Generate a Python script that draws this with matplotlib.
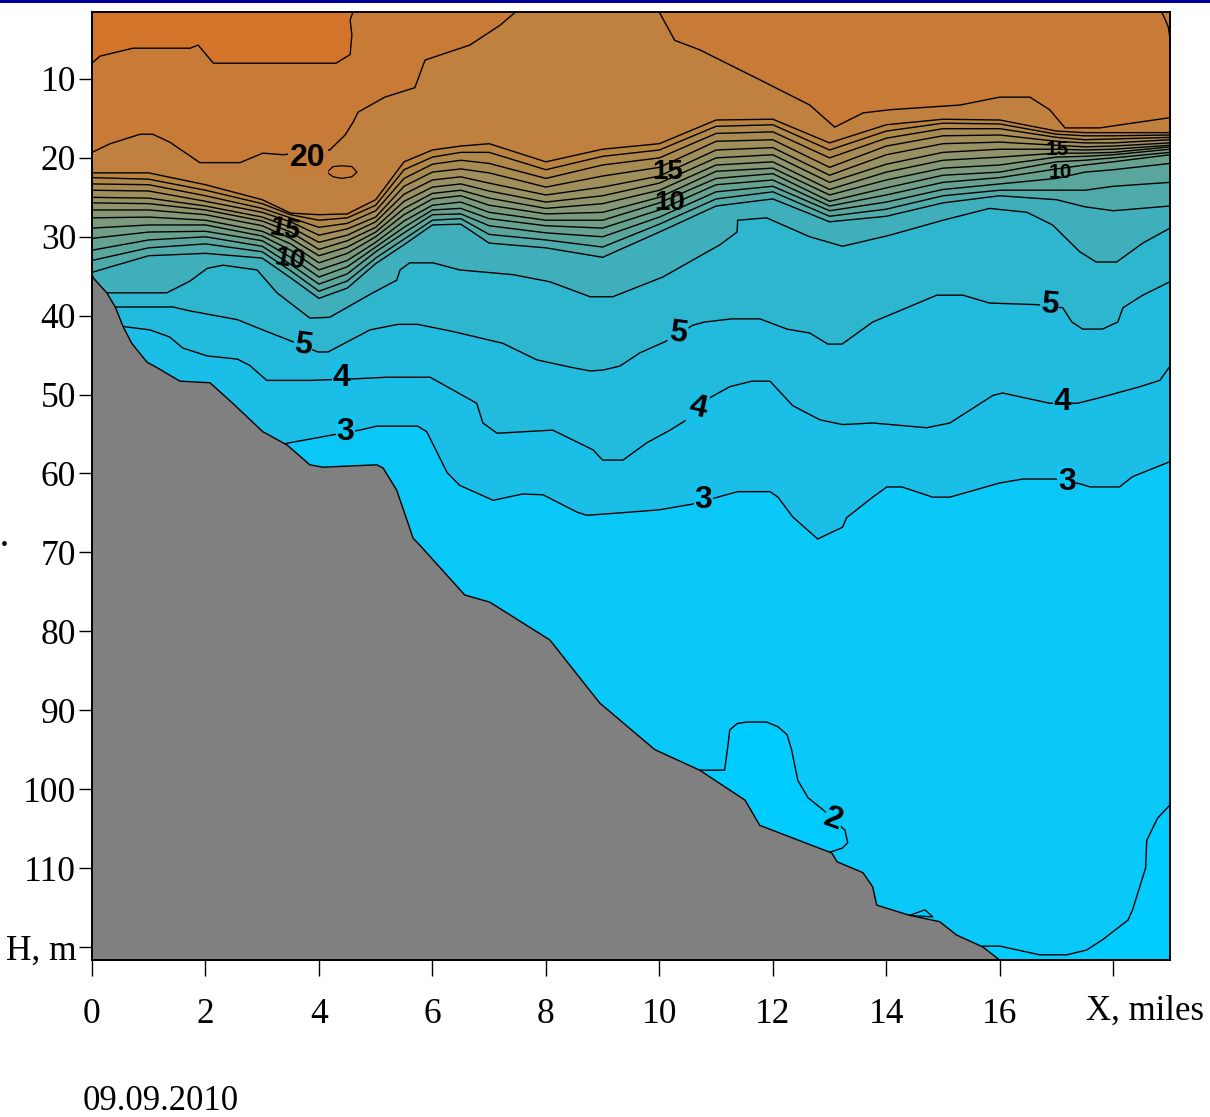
import numpy as np
import matplotlib
matplotlib.use("Agg")
import matplotlib.pyplot as plt
from matplotlib.patches import Rectangle

plt.rcParams['font.family'] = ['Liberation Serif', 'DejaVu Serif']

# x stations shared by the thermocline isolines, miles
x_st = [0, 1, 2, 3, 3.5, 4, 4.5, 5, 5.5, 6, 6.5, 7, 8, 9, 10, 11, 12, 13, 14, 15, 16, 17, 17.5, 18, 19]

# depth of each isotherm at the stations, m
t19 = [21.9, 21.9, 23.4, 25.3, 27.0, 27.2, 27.1, 25.3, 20.5, 19.0, 18.5, 18.2, 20.5, 18.9, 18.2, 15.2, 15.1, 18.1, 15.8, 15.1, 15.2, 16.6, 16.8, 16.8, 16.8]
t18 = [22.5, 22.7, 24.1, 25.8, 27.2, 27.9, 27.6, 26.0, 21.5, 19.9, 19.3, 19.3, 21.5, 19.8, 19.0, 16.0, 15.8, 19.0, 16.6, 15.6, 15.7, 17.0, 17.2, 17.2, 17.1]
t17 = [23.3, 23.4, 24.8, 26.4, 27.6, 28.8, 28.3, 26.7, 22.6, 20.8, 20.3, 20.7, 22.6, 20.9, 20.0, 16.9, 16.7, 20.0, 17.5, 16.3, 16.3, 17.4, 17.7, 17.6, 17.4]
t16 = [24.1, 24.2, 25.5, 26.9, 28.1, 29.8, 29.0, 27.5, 23.6, 21.8, 21.4, 21.9, 23.7, 22.3, 21.2, 17.9, 17.7, 21.2, 18.5, 17.2, 17.1, 17.9, 18.1, 18.1, 17.7]
t15 = [25.0, 25.1, 26.1, 27.5, 28.8, 30.7, 29.8, 28.1, 24.6, 22.8, 22.4, 23.2, 24.7, 23.7, 22.3, 19.0, 18.7, 22.2, 19.6, 18.2, 18.0, 18.4, 18.6, 18.5, 18.1]
t14 = [25.7, 25.8, 26.6, 28.0, 29.4, 31.6, 30.5, 28.8, 25.5, 23.7, 23.3, 24.2, 25.6, 24.8, 23.2, 20.0, 19.6, 23.1, 20.8, 19.3, 18.9, 18.9, 19.0, 18.9, 18.4]
t13 = [26.6, 26.6, 27.2, 28.6, 30.2, 32.4, 31.3, 29.4, 26.4, 24.5, 24.1, 25.1, 26.4, 25.8, 24.1, 20.9, 20.5, 24.0, 21.8, 20.3, 19.9, 19.4, 19.4, 19.3, 18.6]
t12 = [27.6, 27.5, 27.9, 29.3, 30.9, 33.3, 32.1, 30.0, 27.2, 25.2, 24.8, 26.0, 27.1, 26.9, 25.0, 21.7, 21.3, 24.7, 22.8, 21.3, 20.9, 19.9, 19.8, 19.6, 18.9]
t11 = [28.9, 28.5, 28.5, 29.9, 31.7, 34.2, 33.0, 30.7, 28.0, 26.0, 25.6, 26.9, 27.9, 27.9, 25.7, 22.6, 22.0, 25.5, 23.8, 22.2, 21.8, 20.5, 20.3, 20.0, 19.3]
t10 = [30.2, 29.4, 29.3, 30.5, 32.6, 35.1, 33.8, 31.3, 28.8, 26.6, 26.4, 27.7, 28.6, 28.9, 26.6, 23.4, 22.8, 26.1, 24.7, 23.1, 22.5, 21.4, 20.9, 20.5, 19.6]
t9 = [31.7, 30.4, 30.0, 31.2, 33.5, 36.0, 34.7, 31.9, 29.5, 27.2, 27.1, 28.6, 29.5, 30.0, 27.5, 24.3, 23.6, 26.7, 25.6, 24.0, 23.3, 22.6, 21.8, 21.5, 20.7]
t8 = [33.0, 31.4, 30.9, 31.9, 34.3, 36.9, 35.6, 32.7, 30.3, 27.9, 27.7, 29.7, 30.4, 31.3, 28.4, 25.2, 24.3, 27.4, 26.5, 24.8, 24.1, 24.1, 24.1, 23.6, 23.1]
t7 = [34.5, 32.4, 32.1, 32.7, 35.2, 37.8, 36.5, 33.4, 31.0, 28.5, 28.4, 30.8, 31.4, 32.6, 29.4, 26.1, 25.2, 28.1, 27.4, 25.7, 24.8, 25.3, 26.2, 26.7, 26.1]

# the lower isolines have their own x points
x6 = [0, 1.32, 1.73, 2.03, 2.31, 2.91, 3.26, 3.84, 4.19, 4.95, 5.37, 5.43, 5.6, 6.01, 6.48, 7.42, 8.07, 8.78, 9.18, 10.06, 11.07, 11.37, 11.38, 11.89, 12.65, 13.23, 14.06, 15.0, 15.82, 16.48, 16.93, 17.41, 17.7, 18.06, 18.52, 19]
t6 = [37.1, 37.1, 35.6, 34.0, 33.6, 34.2, 37.1, 40.3, 40.2, 37.1, 35.5, 34.2, 33.3, 33.3, 34.2, 34.8, 35.7, 37.6, 37.6, 35.1, 31.0, 29.4, 27.9, 27.6, 30.0, 31.2, 29.8, 27.9, 26.4, 26.9, 28.5, 31.9, 33.2, 33.2, 30.8, 28.9]
x5 = [0, .41, 1.43, 1.73, 2.56, 3.01, 3.54, 3.98, 4.16, 4.9, 5.39, 5.74, 6.36, 7.24, 7.84, 8.48, 8.78, 9.0, 9.3, 9.66, 10.13, 10.59, 10.8, 11.28, 11.77, 12.25, 12.65, 12.97, 13.22, 13.76, 14.36, 14.89, 15.35, 15.82, 16.65, 17.11, 17.27, 17.46, 17.81, 18.08, 18.17, 18.52, 19]
t5 = [38.0, 38.9, 38.9, 39.4, 40.5, 41.8, 43.3, 44.6, 44.6, 41.8, 41.1, 41.1, 42.0, 43.5, 45.6, 46.6, 47.0, 46.9, 46.4, 44.7, 43.2, 41.2, 40.8, 40.4, 40.4, 41.7, 42.2, 43.6, 43.6, 40.8, 39.0, 37.4, 37.4, 38.4, 38.6, 39.0, 40.8, 41.7, 41.7, 40.8, 39.0, 37.4, 35.7]
x4 = [0, .58, 1.02, 1.37, 1.6, 2.03, 2.56, 2.78, 3.08, 3.84, 4.63, 5.2, 5.96, 6.78, 6.89, 7.14, 8.12, 8.83, 9.0, 9.36, 9.78, 10.19, 10.48, 10.89, 11.24, 11.63, 11.95, 12.35, 12.83, 13.23, 13.76, 14.71, 15.12, 15.88, 16.05, 16.88, 17.37, 17.76, 18.47, 18.82, 19]
t4 = [40.5, 41.4, 41.8, 42.7, 44.1, 45.1, 45.5, 46.3, 48.2, 48.2, 48.0, 47.8, 47.8, 51.1, 53.6, 54.9, 54.5, 57.0, 58.3, 58.3, 56.1, 54.5, 53.2, 50.4, 49.0, 48.3, 48.3, 51.4, 53.2, 53.8, 53.6, 54.2, 53.6, 50.1, 49.8, 51.1, 51.1, 50.4, 49.0, 48.2, 46.4]
x3 = [0, 1, 2, 3.0, 3.49, 4.25, 4.72, 5.02, 5.74, 5.9, 6.26, 6.48, 7.07, 7.59, 7.95, 8.55, 8.72, 9.3, 10.0, 10.57, 11.03, 11.38, 11.95, 12.09, 12.35, 12.79, 13.23, 13.3, 13.76, 14.01, 14.27, 14.82, 15.12, 16.0, 16.41, 16.97, 17.41, 17.59, 18.11, 18.34, 19]
t3 = [44.4, 48.2, 50.7, 56.8, 56.1, 55.1, 54.5, 54.0, 54.0, 54.7, 59.9, 61.5, 63.4, 62.6, 62.7, 64.9, 65.3, 65.0, 64.6, 63.9, 63.0, 62.3, 62.3, 63.0, 65.5, 68.3, 66.8, 65.6, 63.0, 61.7, 61.7, 63.0, 63.0, 61.2, 60.7, 60.7, 61.3, 61.7, 61.7, 60.4, 58.5]

# warm layer lines
x20 = [0, .32, .85, 1.07, 1.37, 1.9, 2.61, 3.01, 3.37, 4.19, 4.46, 4.6, 4.69, 5.16, 5.69, 5.87, 6.66, 7.19, 7.63, 9.92, 10.27, 10.71, 11.77, 12.65, 13.09, 13.59, 14.06, 15.3, 16.0, 16.53, 16.88, 17.15, 17.76, 19]
t20 = [19.3, 18.2, 17.0, 17.0, 18.0, 20.6, 20.6, 19.4, 19.6, 19.0, 17.1, 15.5, 14.2, 12.3, 11.1, 7.6, 5.7, 3.2, 0.5, 0.5, 5.1, 6.3, 10.1, 13.3, 16.1, 14.3, 13.9, 13.3, 12.3, 12.3, 13.9, 16.2, 16.2, 14.9]
x21 = [0, .14, .72, 1.73, 1.87, 2.14, 4.3, 4.55, 4.58, 4.55, 4.6]
t21 = [8.0, 7.1, 6.1, 6.1, 5.7, 8.0, 8.0, 6.9, 4.4, 2.5, 1.5]
x21b = [18.85, 18.9, 18.97, 19]
t21b = [1.5, 2.2, 3.4, 4.9]
x_patch20 = [4.14, 4.25, 4.4, 4.58, 4.67, 4.58, 4.4, 4.25, 4.14]
t_patch20 = [21.8, 21.1, 21.0, 21.1, 21.8, 22.4, 22.6, 22.4, 21.8]

# cold patches
x2_blob = [10.71, 11.15, 11.21, 11.24, 11.37, 11.54, 11.89, 12.09, 12.25, 12.33, 12.44, 12.62, 12.88, 13.27, 13.32, 13.22, 13.0, 11.5]
t2_blob = [97.6, 97.6, 94.4, 92.5, 91.7, 91.5, 91.5, 92.1, 93.1, 95.0, 98.9, 101.1, 102.6, 105.2, 106.8, 107.5, 108.0, 105.0]
x2_right = [15.7, 16.0, 16.7, 17.18, 17.53, 17.81, 18.26, 18.34, 18.57, 18.59, 18.78, 19]
t2_right = [119.9, 119.9, 121.0, 121.0, 120.4, 119.1, 116.6, 115.3, 110.0, 106.5, 103.7, 102.0]
x2_small = [14.41, 14.68, 14.82, 14.41]
t2_small = [116.0, 115.3, 116.2, 116.0]

# sea bed
x_bed = [0, .02, .26, .41, .55, .7, .97, 1.15, 1.55, 2.08, 2.48, 3.01, 3.44, 3.84, 4.07, 5.02, 5.13, 5.37, 5.66, 5.78, 6.57, 7.01, 8.07, 8.95, 9.92, 10.71, 11.51, 11.77, 13.04, 13.13, 13.59, 13.76, 13.83, 14.41, 14.94, 15.24, 15.7, 15.95, 16.05]
h_bed = [34.5, 35.2, 37.1, 38.9, 41.4, 43.5, 45.9, 46.6, 48.3, 48.5, 51.1, 54.7, 56.4, 58.9, 59.2, 58.9, 59.3, 62.1, 68.2, 69.1, 75.4, 76.3, 81.1, 89.1, 95.0, 97.6, 101.4, 104.6, 108.1, 109.2, 110.6, 112.4, 114.7, 116.0, 116.8, 118.5, 120.0, 121.4, 122.0]

isotherms = [(x_st, t) for t in [t19, t18, t17, t16, t15, t14, t13, t12, t11, t10, t9, t8, t7]]
isotherms += [(x6, t6), (x5, t5), (x4, t4), (x3, t3)]
band_colors = ['#b8843f', '#b08849', '#a88b52', '#a08e5b', '#989163', '#8f946c', '#859774', '#7b9a7d', '#719e87', '#67a290',
               '#5aa69c', '#4eabaa', '#3fb0bb', '#2eb6cf', '#22bbdd', '#1abee7', '#12c2ee']

y_ticks = [10, 20, 30, 40, 50, 60, 70, 80, 90, 100, 110, 120]
y_labels = ['10', '20', '30', '40', '50', '60', '70', '80', '90', '100', '110', 'H, m']
x_ticks = [0, 2, 4, 6, 8, 10, 12, 14, 16, 18]
x_labels = ['0', '2', '4', '6', '8', '10', '12', '14', '16', '']

fig = plt.figure(figsize=(12.10, 11.17), dpi=100)
ax = fig.add_axes([92 / 1210, 1 - 960 / 1117, (1170 - 92) / 1210, (960 - 12) / 1117])
ax.set_facecolor('#0ac8f8')

# warm layers first, then each band down to the next isotherm
ax.fill_between(x_st, 0, t19, color='#c0803f', lw=0)
ax.fill_between(x20, 0, t20, color='#c77b36', lw=0)
ax.fill_between(x21, 0, t21, color='#d2752a', lw=0)
ax.fill(x_patch20, t_patch20, color='#c77b36', lw=0)
for (xa, ta), (xb, tb), col in zip(isotherms[:-1], isotherms[1:], band_colors):
    ax.fill(np.r_[xa, xb[::-1]], np.r_[ta, tb[::-1]], color=col, lw=0)
ax.fill(x2_blob, t2_blob, color='#00ccff', lw=0)
ax.fill_between(x2_right, t2_right, 125, color='#00ccff', lw=0)
ax.fill(x2_small, t2_small, color='#00ccff', lw=0)

for xa, ta in isotherms:
    ax.plot(xa, ta, color='black', lw=1.0)
ax.plot(x20, t20, color='black', lw=1.0)
ax.plot(x21, t21, color='black', lw=1.0)
ax.plot(x21b, t21b, color='black', lw=1.0)
ax.plot(x_patch20, t_patch20, color='black', lw=0.9)
ax.plot(x2_blob[:-1], t2_blob[:-1], color='black', lw=1.0)
ax.plot(x2_right, t2_right, color='black', lw=1.0)
ax.plot(x2_small, t2_small, color='black', lw=0.9)

ax.fill_between(x_bed, h_bed, 125, color='#808080', lw=0, zorder=3)
ax.plot(x_bed, h_bed, color='black', lw=1.0, zorder=4)

# contour labels
lab = dict(family=['Liberation Sans', 'DejaVu Sans'], weight='bold', color='black', ha='center', va='center', zorder=5)
ax.text(3.8, 20.0, '20', fontsize=23, bbox=dict(fc='#c47c3a', ec='none', pad=1.5), **lab)
ax.text(3.72, 43.8, '5', fontsize=23, rotation=-8, bbox=dict(fc='#26b9db', ec='none', pad=0.5), **lab)
ax.text(10.33, 42.2, '5', fontsize=23, rotation=-8, bbox=dict(fc='#26b9db', ec='none', pad=0.5), **lab)
ax.text(16.88, 38.6, '5', fontsize=23, rotation=-5, bbox=dict(fc='#26b9db', ec='none', pad=0.5), **lab)
ax.text(4.39, 47.9, '4', fontsize=23, bbox=dict(fc='#18bfe8', ec='none', pad=0.5), **lab)
ax.text(10.68, 51.7, '4', fontsize=23, rotation=-12, bbox=dict(fc='#18bfe8', ec='none', pad=0.5), **lab)
ax.text(17.11, 50.9, '4', fontsize=23, bbox=dict(fc='#18bfe8', ec='none', pad=0.5), **lab)
ax.text(4.46, 54.7, '3', fontsize=23, bbox=dict(fc='#0ec5f3', ec='none', pad=0.5), **lab)
ax.text(10.78, 63.4, '3', fontsize=23, bbox=dict(fc='#0ec5f3', ec='none', pad=0.5), **lab)
ax.text(17.18, 61.1, '3', fontsize=23, bbox=dict(fc='#0ec5f3', ec='none', pad=0.5), **lab)
ax.text(13.06, 103.9, '2', fontsize=23, rotation=-20, bbox=dict(fc='#05caf9', ec='none', pad=0.5), **lab)
for xp, yp, s, rot, fs in [(3.4, 29.1, '15', -10, 20), (3.49, 32.9, '10', -10, 20), (10.15, 21.8, '15', 0, 20), (10.18, 25.7, '10', 0, 20),
                           (17.02, 19.0, '15', 0, 15), (17.07, 21.8, '10', 0, 15)]:
    ax.text(xp, yp, s, fontsize=fs, rotation=rot, **lab)

ax.set_xlim(0, 19)
ax.set_ylim(121.66, 1.51)
ax.set_xticks(x_ticks)
ax.set_xticklabels(x_labels)
ax.set_yticks(y_ticks)
ax.set_yticklabels(y_labels)
ax.tick_params(axis='both', direction='out', width=1.0, labelsize=25.5, color='black')
ax.tick_params(axis='x', pad=16, length=11.5)
ax.tick_params(axis='y', pad=2, length=9.4)
for sp in ax.spines.values():
    sp.set_linewidth(1.4)
    sp.set_zorder(6)

fig.text(1145 / 1210, 1 - 1011 / 1117, 'X, miles', fontsize=25, ha='center', va='center')
fig.text(83 / 1210, 1 - 1101 / 1117, '09.09.2010', fontsize=25, ha='left', va='center')
fig.text(4 / 1210, 1 - 546 / 1117, '\u2022', fontsize=14, ha='center', va='center')
fig.patches.append(Rectangle((0, 1 - 3 / 1117), 1, 3 / 1117, transform=fig.transFigure, color='#00009a', lw=0))

fig.savefig('out.png', dpi=100)
